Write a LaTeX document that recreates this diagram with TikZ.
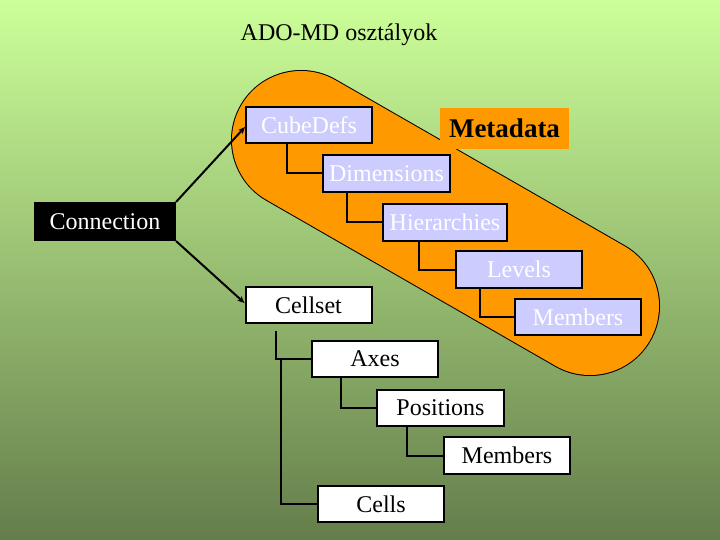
\documentclass[tikz,border=0pt]{standalone}
\usepackage{fontspec}
\setmainfont{Liberation Serif}
\usetikzlibrary{arrows.meta}
\definecolor{bgtop}{RGB}{204,255,153}
\definecolor{bgmid}{RGB}{158,198,118}
\definecolor{bgbot}{RGB}{100,125,75}
\definecolor{blob}{RGB}{255,153,0}
\definecolor{lav}{RGB}{204,204,255}
\tikzset{
  box/.style={draw=black, line width=2pt, minimum width=126pt, minimum height=36pt, inner sep=0pt, font=\fontsize{24}{28}\selectfont},
  metabox/.style={box, fill=lav, text=white},
  plainbox/.style={box, fill=white, text=black},
  conbox/.style={box, fill=black, text=white, minimum width=140pt, minimum height=37pt},
  tagbox/.style={fill=blob, minimum width=129pt, minimum height=41pt, inner sep=0pt, font=\fontsize{27}{31}\selectfont\bfseries},
  link/.style={draw=black, line width=2pt},
  arr/.style={draw=black, line width=2pt, -{Stealth[length=7pt,width=6pt]}}
}
\begin{document}
\begin{tikzpicture}[x=1pt,y=-1pt]
\useasboundingbox (0,0) rectangle (720,540);
\shade[top color=bgtop, middle color=bgmid, bottom color=bgbot] (0,0) rectangle (720,540);
\node[font=\fontsize{24}{28}\selectfont] (title) at (339,35) {ADO-MD osztályok};
% blob
\coordinate (c1) at (301,140);
\coordinate (c2) at (590,306);
\draw[line width=140pt, line cap=round, black] (c1) -- (c2);
\draw[line width=138pt, line cap=round, blob] (c1) -- (c2);
% nodes
\node[metabox] (cube) at (309,125) {CubeDefs};
\node[tagbox] (meta) at (504.5,128.5) {Metadata};
\node[metabox, minimum width=127pt, minimum height=37pt] (dim) at (386.5,173.5) {Dimensions};
\node[conbox] (conn) at (105,221.5) {Connection};
\node[metabox, minimum width=124pt, minimum height=37pt] (hier) at (445,222.5) {Hierarchies};
\node[metabox, minimum height=37pt] (lev) at (519,269.5) {Levels};
\node[plainbox] (cellset) at (308.5,305) {Cellset};
\node[metabox] (mem1) at (578,317) {Members};
\node[plainbox] (axes) at (375,359) {Axes};
\node[plainbox, minimum width=127pt] (pos) at (440.5,408) {Positions};
\node[plainbox, minimum height=37pt] (mem2) at (507,455.5) {Members};
\node[plainbox] (cells) at (381,504) {Cells};
% tree links
\draw[link] ([xshift=42pt]cube.south west) |- (dim.west);
\draw[link] ([xshift=25pt]dim.south west) |- (hier.west);
\draw[link] ([xshift=37pt]hier.south west) |- (lev.west);
\draw[link] ([xshift=25pt]lev.south west) |- (mem1.west);
\draw[link] ([xshift=31pt,yshift=-7pt]cellset.south west) |- (axes.west);
\coordinate (cj) at ([xshift=-30pt]axes.west);
\draw[link] (cj) |- (cells.west);
\draw[link] ([xshift=30pt]axes.south west) |- (pos.west);
\draw[link] ([xshift=31pt]pos.south west) |- (mem2.west);
% arrows
\draw[arr] (conn.north east) -- ([yshift=-2pt]cube.west);
\draw[arr] (conn.south east) -- ([yshift=2pt]cellset.west);
\end{tikzpicture}
\end{document}
